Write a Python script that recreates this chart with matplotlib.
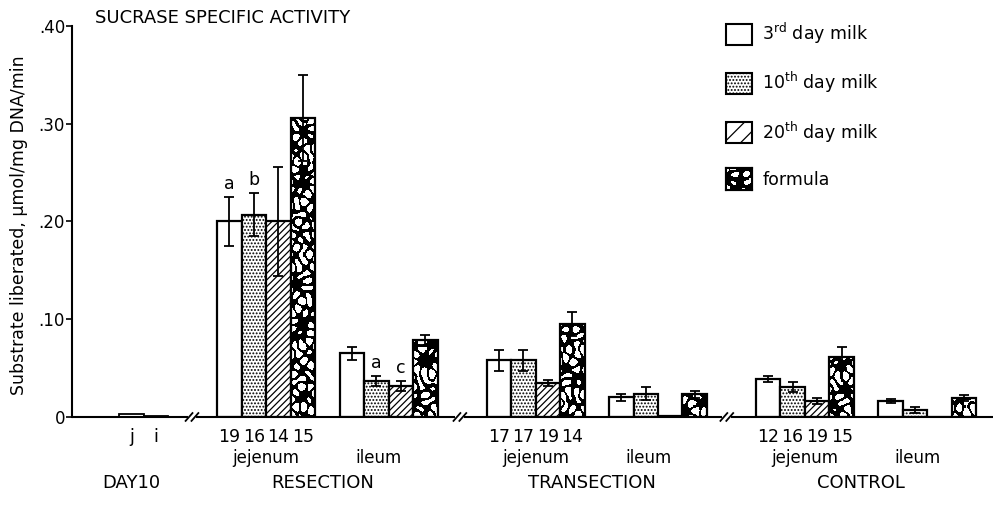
import numpy as np
import matplotlib
matplotlib.use("Agg")
import matplotlib.pyplot as plt
from matplotlib.patches import Patch

plt.rcParams["font.family"] = ["DejaVu Sans"]
plt.rcParams["hatch.linewidth"] = 0.9

# ---- data -------------------------------------------------------------
legend_labels = [r"3$^{\rm rd}$ day milk", r"10$^{\rm th}$ day milk",
                 r"20$^{\rm th}$ day milk", "formula"]

# subgroups in order: resection jejunum, resection ileum,
# transection jejunum, transection ileum, control jejunum, control ileum
third = [0.200, 0.065, 0.058, 0.020, 0.039, 0.016]
third_err = [0.025, 0.007, 0.011, 0.004, 0.003, 0.002]
tenth = [0.207, 0.037, 0.058, 0.024, 0.031, 0.007]
tenth_err = [0.022, 0.005, 0.011, 0.007, 0.005, 0.003]
twentieth = [0.200, 0.032, 0.035, 0.001, 0.016, 0.0]
twentieth_err = [0.056, 0.005, 0.003, 0.0, 0.003, 0.0]
formula = [0.306, 0.079, 0.095, 0.023, 0.061, 0.019]
formula_err = [0.044, 0.005, 0.012, 0.004, 0.011, 0.003]

day10_labels = ["j", "i"]
day10_values = [0.003, 0.001]

group_names = ["RESECTION", "TRANSECTION", "CONTROL"]
jejunum_n = [[19, 16, 14, 15], [17, 17, 19, 14], [12, 16, 19, 15]]

# (subgroup, series, letter)
letters = [(0, 0, "a"), (0, 1, "b"), (1, 1, "a"), (1, 2, "c")]

yticks = [0, 0.10, 0.20, 0.30, 0.40]
ytick_labels = ["0", ".10", ".20", ".30", ".40"]

# ---- layout -----------------------------------------------------------
sub_start = [4, 9, 15, 20, 26, 31]
day10_x = [0, 1]
breaks = [2.47, 13.41, 24.31]
XMIN, XMAX = -2.43, 35.16

fig = plt.figure(figsize=(9.93, 5.05), dpi=100)
ax = fig.add_axes([0.0725, 0.1743, 0.927, 0.7743])

values = [third, tenth, twentieth, formula]
errors = [third_err, tenth_err, twentieth_err, formula_err]
hatches = [None, ".....", "/////", None]

# plane waves whose sum has wormy, non-repeating level sets
WAVE_ANGLES = np.deg2rad([0, 37, 71, 104, 143, 166])
WAVE_K = [0.52, 0.47, 0.55, 0.45, 0.5, 0.53]
WAVE_PHASE = [0.3, 1.9, 4.1, 2.7, 5.2, 0.9]


def worm_texture(h, w, ox, oy):
    """Black squiggly strokes on white."""
    yy, xx = np.mgrid[0:h, 0:w].astype(float)
    xx += ox
    yy += oy
    t = np.zeros_like(xx)
    for a, k, p in zip(WAVE_ANGLES, WAVE_K, WAVE_PHASE):
        t += np.cos(k * (xx * np.cos(a) + yy * np.sin(a)) + p)
    return (np.abs(t) > 1.45).astype(float)


px_per_x = 0.927 * 993 / (XMAX - XMIN)
px_per_y = 0.7743 * 505 / 0.40

for s in range(4):
    xs = [sub_start[g] + s for g in range(6)]
    ys = values[s]
    if s == 3:
        bars = ax.bar(xs, ys, width=1.0, facecolor="white", edgecolor="none",
                      zorder=2)
        for k, (b, x, y) in enumerate(zip(bars, xs, ys)):
            h = max(int(round(y * px_per_y)), 1)
            w = int(round(px_per_x))
            tex = worm_texture(h, w, 37 * k, 53 * k)
            im = ax.imshow(tex, extent=(x - 0.5, x + 0.5, 0, y), cmap="gray",
                           vmin=0, vmax=1, interpolation="nearest",
                           aspect="auto", zorder=2.1)
            im.set_clip_path(b)
        ax.bar(xs, ys, width=1.0, facecolor="none", edgecolor="black",
               linewidth=1.6, zorder=2.2)
    else:
        ax.bar(xs, ys, width=1.0, facecolor="white", edgecolor="black",
               linewidth=1.6, hatch=hatches[s], zorder=2)
    ex = [x for x, e in zip(xs, errors[s]) if e > 0]
    ey = [y for y, e in zip(ys, errors[s]) if e > 0]
    ee = [e for e in errors[s] if e > 0]
    ax.errorbar(ex, ey, yerr=ee, fmt="none", ecolor="black", elinewidth=1.3,
                capsize=3.5, capthick=1.3, zorder=3)

# day 10 bars
ax.bar(day10_x, day10_values, width=1.0, facecolor="white",
       edgecolor="black", linewidth=1.3, zorder=2)

# significance letters
for g, s, letter in letters:
    x = sub_start[g] + s
    top = values[s][g] + errors[s][g]
    ax.text(x, top + 0.004, letter, ha="center", va="bottom", fontsize=12.5)

# baseline with axis breaks
seg_edges = [XMIN] + [v for b in breaks for v in (b - 0.18, b + 0.18)] + [XMAX]
for a, b in zip(seg_edges[0::2], seg_edges[1::2]):
    ax.plot([a, b], [0, 0], color="black", lw=1.5, clip_on=False, zorder=4,
            solid_capstyle="butt")
for b in breaks:
    for d in (-0.12, 0.12):
        ax.plot([b + d - 0.14, b + d + 0.14], [-0.004, 0.004], color="black",
                lw=1.3, clip_on=False, zorder=4)

# labels under the axis
tr = ax.get_xaxis_transform()
for x, lab in zip(day10_x, day10_labels):
    ax.text(x, -0.05, lab, transform=tr, ha="center", va="center",
            fontsize=12.5)
ax.text(0.0, -0.168, "DAY10", transform=tr, ha="center", va="center",
        fontsize=13)

for gi, name in enumerate(group_names):
    jstart = sub_start[2 * gi]
    istart = sub_start[2 * gi + 1]
    for s, n in enumerate(jejunum_n[gi]):
        ax.text(jstart + s, -0.05, str(n), transform=tr, ha="center",
                va="center", fontsize=12.5)
    ax.text(jstart + 1.5, -0.104, "jejenum", transform=tr, ha="center",
            va="center", fontsize=12)
    ax.text(istart + 1.1, -0.104, "ileum", transform=tr, ha="center",
            va="center", fontsize=12)
    ax.text((jstart + istart + 3) / 2 - 0.2, -0.168, name, transform=tr,
            ha="center", va="center", fontsize=13)

# axes styling
ax.set_xlim(XMIN, XMAX)
ax.set_ylim(0, 0.40)
ax.set_yticks(yticks)
ax.set_yticklabels(ytick_labels, fontsize=12)
ax.set_xticks([])
for side in ("top", "right", "bottom"):
    ax.spines[side].set_visible(False)
ax.spines["left"].set_linewidth(1.5)
ax.tick_params(axis="y", length=4, width=1.2, pad=1)
ax.set_ylabel("Substrate liberated, µmol/mg DNA/min", fontsize=12.5)
ax.yaxis.set_label_coords(-0.048, 0.49)

fig.text(95 / 993, 1 - 18 / 505, "SUCRASE SPECIFIC ACTIVITY", fontsize=13,
         va="center", ha="left")

# legend
handles = [Patch(facecolor="white", edgecolor="black", linewidth=1.5),
           Patch(facecolor="white", edgecolor="black", linewidth=1.5,
                 hatch="....."),
           Patch(facecolor="white", edgecolor="black", linewidth=1.5,
                 hatch="//"),
           Patch(facecolor="white", edgecolor="black", linewidth=1.5)]
leg = ax.legend(handles, legend_labels, loc="upper left",
                bbox_to_anchor=(726 / 993, 1 - 21 / 505),
                bbox_transform=fig.transFigure, frameon=False, fontsize=12.5,
                handlelength=1.5, handleheight=1.5, labelspacing=1.38,
                handletextpad=0.6, borderpad=0, borderaxespad=0)

# textured swatch for the formula entry
fig.canvas.draw()
bb = leg.legend_handles[3].get_window_extent().transformed(
    fig.transFigure.inverted())
sw = fig.add_axes([bb.x0, bb.y0, bb.width, bb.height])
wpx = int(round(bb.width * 993))
hpx = int(round(bb.height * 505))
sw.imshow(worm_texture(hpx, wpx, 11, 5), cmap="gray", vmin=0, vmax=1,
          interpolation="nearest", aspect="auto")
sw.set_xticks([])
sw.set_yticks([])
for sp in sw.spines.values():
    sp.set_linewidth(1.5)

fig.savefig("out.png", dpi=100)
